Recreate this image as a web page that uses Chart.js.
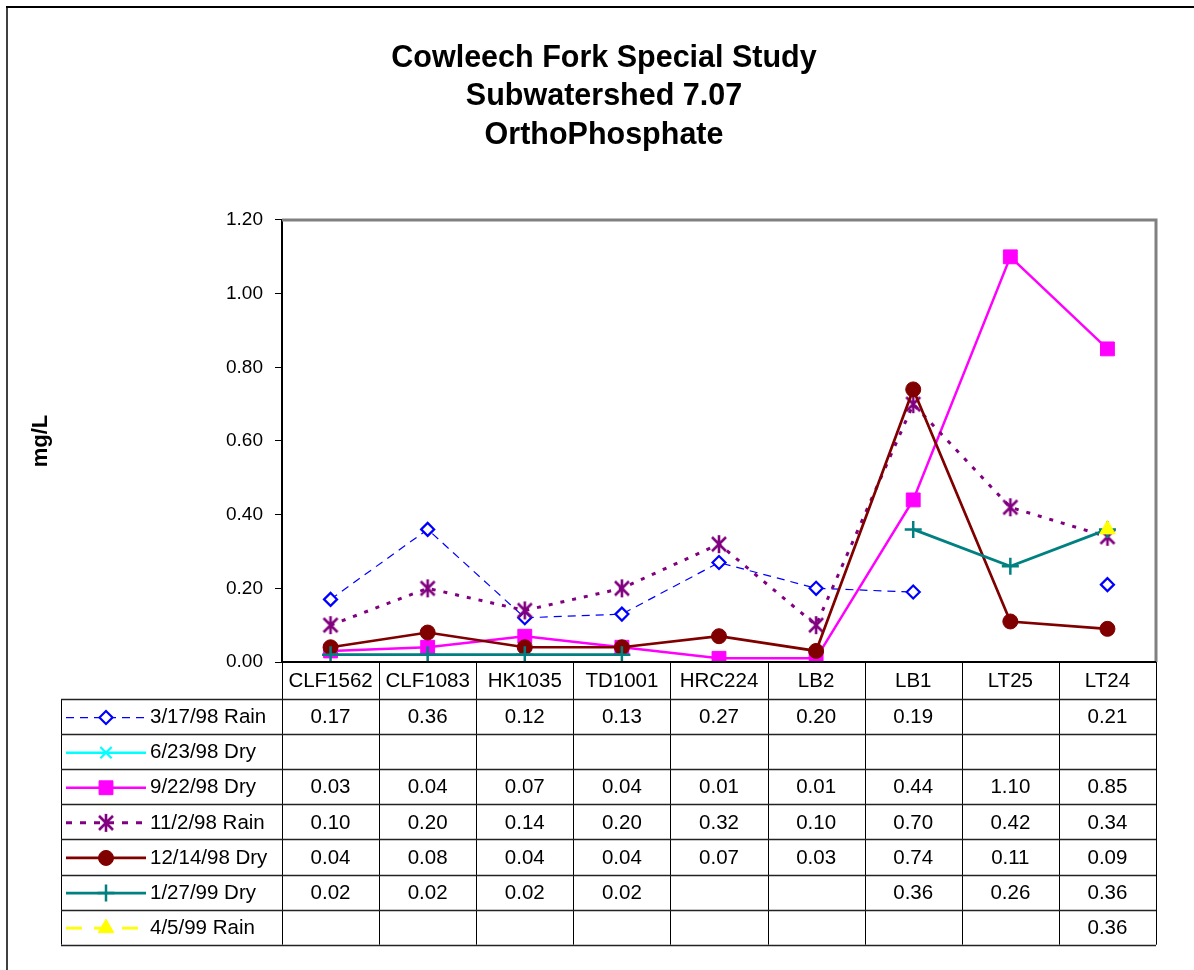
<!DOCTYPE html>
<html><head><meta charset="utf-8">
<script src="https://cdn.jsdelivr.net/npm/chart.js@4.4.1/dist/chart.umd.min.js"></script>
<style>html,body{margin:0;padding:0;background:#fff}#wrap{width:1194px;height:970px;position:relative}canvas{display:block}</style>
</head><body><div id="wrap"><canvas id="c" width="1194" height="970"></canvas></div>
<script>
// ---- data ----
const categories = ['CLF1562','CLF1083','HK1035','TD1001','HRC224','LB2','LB1','LT25','LT24'];
const seriesNames = ['3/17/98 Rain','6/23/98 Dry','9/22/98 Dry','11/2/98 Rain','12/14/98 Dry','1/27/99 Dry','4/5/99 Rain'];
const rain980317 = [0.17,0.36,0.12,0.13,0.27,0.20,0.19,null,0.21];
const dry980623  = [null,null,null,null,null,null,null,null,null];
const dry980922  = [0.03,0.04,0.07,0.04,0.01,0.01,0.44,1.10,0.85];
const rain981102 = [0.10,0.20,0.14,0.20,0.32,0.10,0.70,0.42,0.34];
const dry981214  = [0.04,0.08,0.04,0.04,0.07,0.03,0.74,0.11,0.09];
const dry990127  = [0.02,0.02,0.02,0.02,null,null,0.36,0.26,0.36];
const rain990405 = [null,null,null,null,null,null,null,null,0.36];
const yMin = 0, yMax = 1.2, yStep = 0.2;
const titleLines = ['Cowleech Fork Special Study','Subwatershed 7.07','OrthoPhosphate'];
const yAxisTitle = 'mg/L';

const FONT = 'Arial, "Liberation Sans", Helvetica, sans-serif';

// asterisk marker
function makeAsterisk(color){
  const c = document.createElement('canvas'); c.width = 20; c.height = 20;
  const g = c.getContext('2d'); g.strokeStyle = color; g.lineWidth = 2.6; g.lineCap='butt';
  g.beginPath(); g.moveTo(3,3); g.lineTo(17,17); g.moveTo(17,3); g.lineTo(3,17); g.moveTo(10,1); g.lineTo(10,19); g.stroke();
  return c;
}
const asterisk = makeAsterisk('#800080');

const seriesValues = [rain980317, dry980623, dry980922, rain981102, dry981214, dry990127, rain990405];
const styles = [
  {color:'#0000FF', width:1.2, dash:[8,6], legendDash:[8,6], point:'rectRot', r:6.5, fill:'#FFFFFF', pbw:2.2},
  {color:'#00FFFF', width:2.5, dash:[], legendDash:[], point:'crossRot', r:8, fill:'#00FFFF', pbw:2.2},
  {color:'#FF00FF', width:2.5, dash:[], legendDash:[], point:'rect', r:9.8, fill:'#FF00FF', pbw:1},
  {color:'#800080', width:3, dash:[4,8], legendDash:[6,8], point:asterisk, r:9, fill:'#800080', pbw:2},
  {color:'#800000', width:2.7, dash:[], legendDash:[], point:'circle', r:7.5, fill:'#800000', pbw:1},
  {color:'#008080', width:2.8, dash:[], legendDash:[], point:'cross', r:8.5, fill:'#008080', pbw:2.5},
  {color:'#FFFF00', width:2.8, dash:[14,10], legendDash:[16,12], point:'triangle', r:9, fill:'#FFFF00', pbw:1}
];

const datasets = seriesNames.map((name,i)=>{
  const s = styles[i];
  return {
    label: name, data: seriesValues[i], order: seriesNames.length - i,
    borderColor: s.color, backgroundColor: s.fill, borderWidth: s.width, borderDash: s.dash,
    pointStyle: s.point, pointRadius: s.r, pointHoverRadius: s.r,
    pointBackgroundColor: s.fill, pointBorderColor: s.color, pointBorderWidth: s.pbw,
    spanGaps: false, tension: 0, fill: false
  };
});

function drawMarker(ctx, s, x, y){
  const opts = {pointStyle: s.point, radius: s.r, rotation: 0, borderWidth: s.pbw};
  ctx.save();
  ctx.setLineDash([]);
  ctx.fillStyle = s.fill; ctx.strokeStyle = s.color; ctx.lineWidth = s.pbw;
  if (Chart.helpers && Chart.helpers.drawPoint) {
    Chart.helpers.drawPoint(ctx, opts, x, y);
  }
  ctx.restore();
}

const framePlugin = {
  id: 'frame',
  beforeDraw(chart){
    const ctx = chart.ctx;
    ctx.save();
    ctx.fillStyle = '#fff'; ctx.fillRect(0,0,chart.width,chart.height);
    ctx.strokeStyle = '#404040'; ctx.lineWidth = 2;
    ctx.beginPath(); ctx.moveTo(7, 8); ctx.lineTo(7, chart.height); ctx.stroke();
    ctx.strokeStyle = '#000';
    ctx.beginPath(); ctx.moveTo(6, 7); ctx.lineTo(chart.width, 7); ctx.stroke();
    ctx.restore();
  },
  afterDraw(chart){
    const ctx = chart.ctx, a = chart.chartArea, xs = chart.scales.x;
    ctx.save();
    ctx.strokeStyle = '#808080'; ctx.lineWidth = 3;
    ctx.beginPath(); ctx.moveTo(a.left, a.top); ctx.lineTo(a.right, a.top); ctx.lineTo(a.right, a.bottom); ctx.stroke();

    const n = categories.length;
    const half = (xs.getPixelForValue(1) - xs.getPixelForValue(0)) / 2;
    const headerTop = a.bottom, headerH = 37, rowH = 35.1;
    const tableLeft = 61;
    const rowsTop = headerTop + headerH;
    const tableBottom = rowsTop + rowH * seriesNames.length;
    ctx.strokeStyle = '#000'; ctx.lineWidth = 1;
    for (let i = 0; i <= n; i++) {
      const x = Math.round((i < n ? xs.getPixelForValue(i) - half : xs.getPixelForValue(n-1) + half)) + 0.5;
      ctx.beginPath(); ctx.moveTo(x, headerTop); ctx.lineTo(x, tableBottom); ctx.stroke();
    }
    ctx.beginPath(); ctx.moveTo(tableLeft + 0.5, rowsTop); ctx.lineTo(tableLeft + 0.5, tableBottom); ctx.stroke();
    ctx.strokeStyle = '#000'; ctx.lineWidth = 2;
    ctx.beginPath(); ctx.moveTo(a.left, headerTop); ctx.lineTo(a.right, headerTop); ctx.stroke();
    ctx.lineWidth = 1.5; ctx.strokeStyle = '#222';
    for (let r = 0; r <= seriesNames.length; r++) {
      const y = Math.round(rowsTop + r * rowH) + 0.5;
      ctx.beginPath(); ctx.moveTo(tableLeft, y); ctx.lineTo(a.right, y); ctx.stroke();
    }
    ctx.fillStyle = '#000'; ctx.font = '20.5px ' + FONT; ctx.textAlign = 'center'; ctx.textBaseline = 'middle';
    categories.forEach((c, i) => ctx.fillText(c, xs.getPixelForValue(i), headerTop + headerH / 2 + 1));
    seriesNames.forEach((name, r) => {
      const cy = rowsTop + r * rowH + rowH / 2 + 1;
      const s = styles[r];
      ctx.save();
      ctx.strokeStyle = s.color; ctx.lineWidth = s.width; ctx.setLineDash(s.legendDash);
      ctx.beginPath(); ctx.moveTo(66, cy); ctx.lineTo(146, cy); ctx.stroke();
      ctx.restore();
      drawMarker(ctx, s, 106, cy);
      ctx.fillStyle = '#000'; ctx.textAlign = 'left'; ctx.font = '20.5px ' + FONT;
      ctx.fillText(name, 150, cy);
      ctx.textAlign = 'center';
      seriesValues[r].forEach((v, i) => {
        if (v !== null && v !== undefined) ctx.fillText(v.toFixed(2), xs.getPixelForValue(i), cy);
      });
    });
    ctx.restore();
  }
};

new Chart(document.getElementById('c'), {
  type: 'line',
  data: { labels: categories, datasets },
  plugins: [framePlugin],
  options: {
    responsive: false, animation: false, devicePixelRatio: 1,
    events: [],
    layout: { padding: { left: 52, right: 38, top: 0, bottom: 308 } },
    plugins: {
      legend: { display: false },
      tooltip: { enabled: false },
      title: {
        display: true, text: titleLines, color: '#000',
        font: { family: FONT, size: 30.5, weight: 'bold', lineHeight: 1.262 },
        padding: { top: 39, bottom: 65.5 }
      }
    },
    scales: {
      x: { type: 'category', offset: true, display: false },
      y: {
        min: yMin, max: yMax,
        afterFit: (s) => { s.width = 230; },
        ticks: { stepSize: yStep, callback: (v) => Number(v).toFixed(2), color: '#000', font: { family: FONT, size: 19 }, padding: 12 },
        grid: { drawOnChartArea: false, drawTicks: true, tickLength: 7, color: '#000', lineWidth: 1 },
        border: { display: true, color: '#000', width: 2 },
        title: { display: true, text: yAxisTitle, color: '#000', font: { family: FONT, size: 22, weight: 'bold' }, padding: { top: -24, bottom: 0 } }
      }
    }
  }
});
</script></body></html>
